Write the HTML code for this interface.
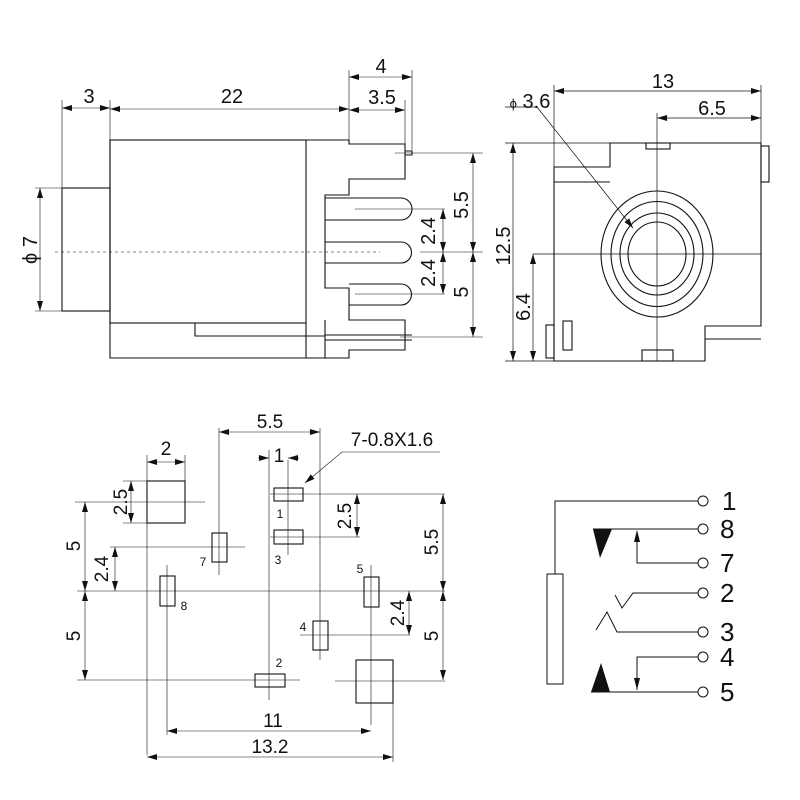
<!DOCTYPE html>
<html><head><meta charset="utf-8"><style>
html,body{margin:0;padding:0;background:#fff}
svg{display:block}
text{font-family:"Liberation Sans",sans-serif;fill:#111}
</style></head><body>
<svg width="800" height="800" viewBox="0 0 800 800" xmlns="http://www.w3.org/2000/svg">
<defs>
<marker id="a" viewBox="0 0 10 6" refX="10" refY="3" markerWidth="10" markerHeight="6" markerUnits="userSpaceOnUse" orient="auto-start-reverse"><path d="M0,0 L10,3 L0,6 z" fill="#111"/></marker>
</defs>
<g fill="none" stroke="#111" stroke-width="1.1">
<rect x="62" y="188" width="48" height="123"/>
<rect x="110" y="140" width="196" height="183"/>
<path d="M110,140 H349 V144 H405 V179 H349 V195 H325 V288 H349 V320 H405 V350 H349 V358 H110 Z"/>
<path d="M195,323 V336 H325 M306,323 V358 M325,320 V358"/>
<path d="M405,151 H412 V155 H405"/>
<path d="M325,335 H412 M325,340 H412"/>
<path d="M325,198 H401 A11,11 0 0 1 401,220 H325"/>
<path d="M325,242 H401 A10.5,10.5 0 0 1 401,263 H325"/>
<path d="M349,284 H401 A10.5,10.5 0 0 1 401,305 H349"/>
</g>
<g fill="none" stroke="#111" stroke-width="0.6">
<path d="M55,252 H380" stroke-dasharray="3,3"/>
<path d="M62,100 V188 M110,100 V140 M349,70 V140 M412,70 V150 M405,100 V144"/>
<path d="M62,108 H110" marker-start="url(#a)" marker-end="url(#a)"/>
<path d="M110,109 H349" marker-start="url(#a)" marker-end="url(#a)"/>
<path d="M349,77 H412" marker-start="url(#a)" marker-end="url(#a)"/>
<path d="M349,110 H405" marker-start="url(#a)" marker-end="url(#a)"/>
<path d="M35,188 H62 M35,311 H62"/>
<path d="M40,188 V311" marker-start="url(#a)" marker-end="url(#a)"/>
<path d="M395,153 H483 M400,337 H483 M355,209 H445 M355,294 H445 M420,252 H483"/>
<path d="M473,153 V252" marker-start="url(#a)" marker-end="url(#a)"/>
<path d="M473,252 V337" marker-start="url(#a)" marker-end="url(#a)"/>
<path d="M443,209 V252" marker-start="url(#a)" marker-end="url(#a)"/>
<path d="M443,252 V294" marker-start="url(#a)" marker-end="url(#a)"/>
</g>
<g font-size="20" text-anchor="middle">
<text x="89" y="103">3</text>
<text x="232" y="103">22</text>
<text x="381" y="73">4</text>
<text x="382" y="104">3.5</text>
<text transform="translate(37,250) rotate(-90)">ϕ 7</text>
<text transform="translate(468,205) rotate(-90)">5.5</text>
<text transform="translate(468,292) rotate(-90)">5</text>
<text transform="translate(435,231) rotate(-90)">2.4</text>
<text transform="translate(435,273) rotate(-90)">2.4</text>
</g>
<g fill="none" stroke="#111" stroke-width="1.1">
<path d="M554,167 H610 V143 H761 V326 H705 V361 H554 Z"/>
<path d="M554,182 H610 M705,339 H761"/>
<rect x="761" y="146" width="8" height="36"/>
<rect x="646" y="143" width="24" height="6"/>
<rect x="642" y="350" width="31" height="11"/>
<rect x="546" y="325" width="8" height="33"/>
<rect x="563" y="321" width="9" height="29"/>
<ellipse cx="657" cy="254" rx="56" ry="63"/>
<ellipse cx="657" cy="254" rx="46" ry="52.5"/>
<ellipse cx="657" cy="254" rx="37" ry="41"/>
<ellipse cx="657" cy="254" rx="29" ry="32"/>
</g>
<g fill="none" stroke="#111" stroke-width="0.7">
<path d="M657,113 V361 M533,254 H761"/>
<path d="M554,85 V167 M761,85 V143 M505,143 H610 M505,361 H554"/>
<path d="M554,91 H761" marker-start="url(#a)" marker-end="url(#a)"/>
<path d="M657,118 H761" marker-start="url(#a)" marker-end="url(#a)"/>
<path d="M513,143 V361" marker-start="url(#a)" marker-end="url(#a)"/>
<path d="M533,254 V361" marker-start="url(#a)" marker-end="url(#a)"/>
<path d="M505,107 H537 L633,228" marker-end="url(#a)"/>
</g>
<g font-size="20" text-anchor="middle">
<text x="663" y="88">13</text>
<text x="712" y="115">6.5</text>
<text x="530" y="108"><tspan font-size="13">ϕ</tspan> 3.6</text>
<text transform="translate(510,246) rotate(-90)">12.5</text>
<text transform="translate(530,307) rotate(-90)">6.4</text>
</g>
<g fill="none" stroke="#111" stroke-width="1.1">
<rect x="147" y="481" width="38" height="42"/>
<rect x="356" y="660" width="37" height="43"/>
<rect x="274" y="488" width="29" height="13"/>
<rect x="274" y="530" width="29" height="14"/>
<rect x="212" y="533" width="15" height="29"/>
<rect x="160" y="576" width="15" height="30"/>
<rect x="364" y="577" width="15" height="30"/>
<rect x="313" y="621" width="15" height="29"/>
<rect x="255" y="674" width="30" height="13"/>
</g>
<g fill="none" stroke="#111" stroke-width="0.6">
<path d="M77,591 H445 M147,455 V755 M185,455 V523 M269,450 V700 M288,460 V555 M320,428 V660 M371,565 V725 M167,565 V735 M393,703 V762 M219,428 V575"/>
<path d="M270,494 H445 M270,537 H360 M110,547 H245 M75,502 H205 M77,680 H300 M300,635 H410 M335,681 H445 M123,481 H185 M123,523 H185 M155,502 H205"/>
<path d="M147,462 H185" marker-start="url(#a)" marker-end="url(#a)"/>
<path d="M219,432 H320" marker-start="url(#a)" marker-end="url(#a)"/>
<path d="M258,458 H269" marker-end="url(#a)"/>
<path d="M299,458 H288" marker-end="url(#a)"/>
<path d="M131,481 V523" marker-start="url(#a)" marker-end="url(#a)"/>
<path d="M85,502 V591" marker-start="url(#a)" marker-end="url(#a)"/>
<path d="M115,547 V591" marker-start="url(#a)" marker-end="url(#a)"/>
<path d="M85,591 V680" marker-start="url(#a)" marker-end="url(#a)"/>
<path d="M357,494 V537" marker-start="url(#a)" marker-end="url(#a)"/>
<path d="M443,494 V591" marker-start="url(#a)" marker-end="url(#a)"/>
<path d="M409,591 V635" marker-start="url(#a)" marker-end="url(#a)"/>
<path d="M443,591 V680" marker-start="url(#a)" marker-end="url(#a)"/>
<path d="M167,731 H371" marker-start="url(#a)" marker-end="url(#a)"/>
<path d="M147,757 H393" marker-start="url(#a)" marker-end="url(#a)"/>
<path d="M440,452 H342 L305,483" marker-end="url(#a)"/>
</g>
<g font-size="19" text-anchor="middle">
<text x="166" y="455">2</text>
<text x="270" y="428">5.5</text>
<text x="279" y="462">1</text>
<text x="392" y="446">7-0.8X1.6</text>
<text x="273" y="727">11</text>
<text x="270" y="753">13.2</text>
<text transform="translate(127,502) rotate(-90)">2.5</text>
<text transform="translate(80,546) rotate(-90)">5</text>
<text transform="translate(108,569) rotate(-90)">2.4</text>
<text transform="translate(80,636) rotate(-90)">5</text>
<text transform="translate(351,516) rotate(-90)">2.5</text>
<text transform="translate(438,542) rotate(-90)">5.5</text>
<text transform="translate(404,613) rotate(-90)">2.4</text>
<text transform="translate(438,636) rotate(-90)">5</text>
</g>
<g font-size="12" text-anchor="middle">
<text x="280" y="518">1</text>
<text x="278" y="564">3</text>
<text x="203" y="566">7</text>
<text x="184" y="610">8</text>
<text x="360" y="573">5</text>
<text x="303" y="631">4</text>
<text x="279" y="667">2</text>
</g>
<g fill="none" stroke="#111" stroke-width="1">
<circle cx="703" cy="501" r="5"/>
<circle cx="703" cy="529" r="5"/>
<circle cx="703" cy="563" r="5"/>
<circle cx="703" cy="593" r="5"/>
<circle cx="703" cy="632" r="5"/>
<circle cx="703" cy="657" r="5"/>
<circle cx="703" cy="692" r="5"/>
<path d="M698,501 H555 V574"/>
<rect x="547" y="574" width="16" height="110"/>
<path d="M593,529 H698"/>
<path d="M698,563 H637 V531"/>
<path d="M615,595 L622,608 L633,593 H698"/>
<path d="M596,630 L607,612 L617,632 H698"/>
<path d="M698,657 H637 V690"/>
<path d="M591,692 H698"/>
</g>
<g fill="#111">
<path d="M593,529 H612 L600,558 Z"/>
<path d="M591,692 H610 L601,663 Z"/>
<path d="M634,542 L637,530 L640,542 Z"/>
<path d="M634,678 L637,690 L640,678 Z"/>
</g>
<g font-size="26">
<text x="722" y="510">1</text>
<text x="720" y="538">8</text>
<text x="720" y="572">7</text>
<text x="720" y="602">2</text>
<text x="720" y="641">3</text>
<text x="720" y="666">4</text>
<text x="720" y="701">5</text>
</g>
</svg>
</body></html>
